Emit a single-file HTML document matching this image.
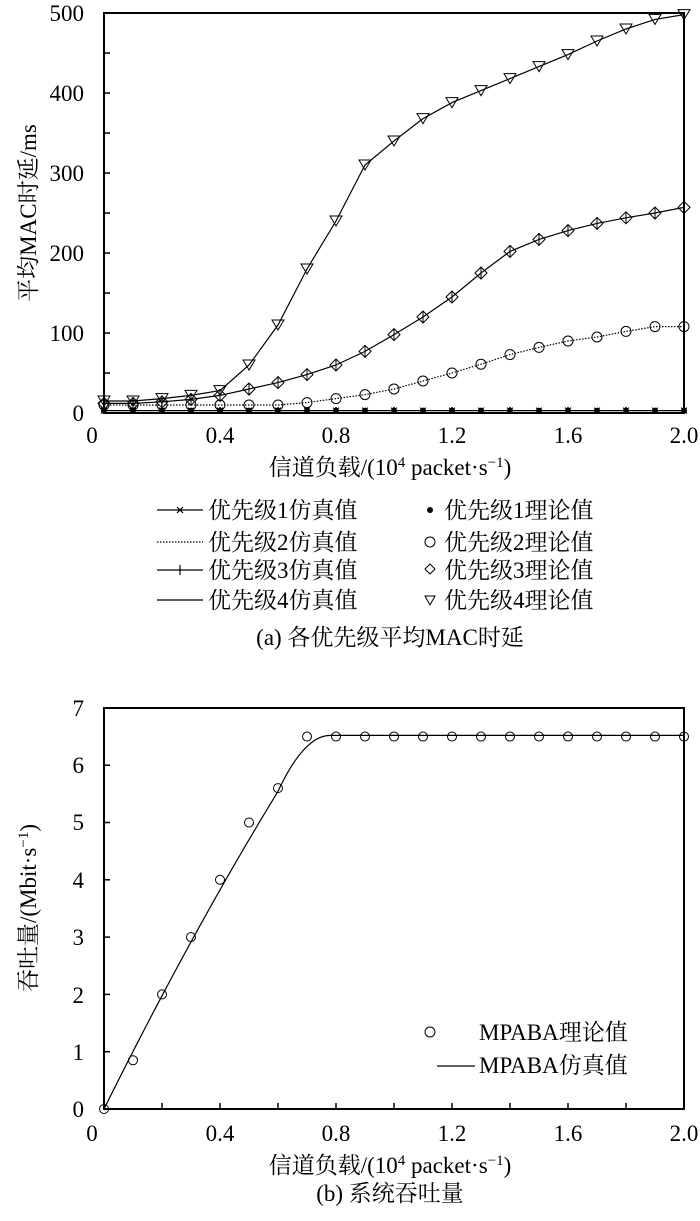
<!DOCTYPE html>
<html><head><meta charset="utf-8"><style>
body{margin:0;background:#fff}
svg{display:block}
text{font-family:"Liberation Serif","Noto Serif CJK SC",serif;fill:#000}
</style></head><body>
<svg id="s" width="700" height="1221" viewBox="0 0 700 1221" xmlns="http://www.w3.org/2000/svg">
<g font-size="23">
<rect x="104" y="13" width="580" height="400" fill="none" stroke="#000" stroke-width="2"/>
<g text-anchor="end">
<text x="84" y="421">0</text><text x="84" y="341">100</text><text x="84" y="261">200</text><text x="84" y="181">300</text><text x="84" y="101">400</text><text x="84" y="21">500</text>
</g>
<g text-anchor="middle">
<text x="92" y="443">0</text><text x="220" y="443">0.4</text><text x="336" y="443">0.8</text><text x="452" y="443">1.2</text><text x="568" y="443">1.6</text><text x="684" y="443">2.0</text>
<text x="390" y="475">信道负载/(10<tspan font-size="15" dy="-8">4</tspan><tspan dy="8"> packet·s</tspan><tspan font-size="15" dy="-8">−1</tspan><tspan dy="8">)</tspan></text>
<text x="390" y="645">(a) 各优先级平均MAC时延</text>
</g>
<text transform="translate(36,213) rotate(-90)" text-anchor="middle">平均MAC时延/ms</text>
<g stroke="#000" stroke-width="1.2">
<line x1="157" y1="510" x2="203" y2="510"/>
<line x1="157" y1="542" x2="203" y2="542" stroke-dasharray="1.5,1.5"/>
<line x1="157" y1="570" x2="203" y2="570"/><line x1="180" y1="565" x2="180" y2="575"/>
<line x1="157" y1="600" x2="203" y2="600"/>
<path d="M177,507 l6,6 M183,507 l-6,6"/>
</g>
<circle cx="430" cy="510" r="3" fill="#000"/>
<circle cx="430" cy="542" r="5" fill="none" stroke="#000"/>
<path d="M430,564 l5,5 l-5,5 l-5,-5z" fill="none" stroke="#000"/>
<path d="M425,596 h10 l-5,9z" fill="none" stroke="#000"/>
<text x="208" y="518">优先级1仿真值</text><text x="208" y="550">优先级2仿真值</text><text x="208" y="578">优先级3仿真值</text><text x="208" y="608">优先级4仿真值</text>
<text x="444" y="518">优先级1理论值</text><text x="444" y="550">优先级2理论值</text><text x="444" y="578">优先级3理论值</text><text x="444" y="608">优先级4理论值</text>

<rect x="104" y="708" width="580" height="401" fill="none" stroke="#000" stroke-width="2"/>
<g text-anchor="end">
<text x="84" y="1117">0</text><text x="84" y="1060">1</text><text x="84" y="1003">2</text><text x="84" y="945">3</text><text x="84" y="888">4</text><text x="84" y="830">5</text><text x="84" y="773">6</text><text x="84" y="716">7</text>
</g>
<g text-anchor="middle">
<text x="92" y="1141">0</text><text x="220" y="1141">0.4</text><text x="336" y="1141">0.8</text><text x="452" y="1141">1.2</text><text x="568" y="1141">1.6</text><text x="684" y="1141">2.0</text>
<text x="390" y="1173">信道负载/(10<tspan font-size="15" dy="-8">4</tspan><tspan dy="8"> packet·s</tspan><tspan font-size="15" dy="-8">−1</tspan><tspan dy="8">)</tspan></text>
<text x="390" y="1201">(b) 系统吞吐量</text>
</g>
<text transform="translate(36,908) rotate(-90)" text-anchor="middle">吞吐量/(Mbit·s<tspan font-size="15" dy="-8">−1</tspan><tspan dy="8">)</tspan></text>
<circle cx="430" cy="1032" r="5" fill="none" stroke="#000"/>
<line x1="437" y1="1066" x2="475" y2="1066" stroke="#000" stroke-width="1.2"/>
<text x="479" y="1040">MPABA理论值</text><text x="479" y="1073">MPABA仿真值</text>
<g id="dyn"></g>
</g>
</svg>
<script>
var NS="http://www.w3.org/2000/svg",g=document.getElementById('dyn');
function el(t,a){var e=document.createElementNS(NS,t);for(var k in a)e.setAttribute(k,a[k]);g.appendChild(e);return e;}
var xs=[];for(var i=0;i<=20;i++)xs.push(i/10);
function X(v){return 104+v*290;}function Y(v){return 413-v*0.8;}
var P4=[15,15,18,22,28,60,110,180,240,310,340,368,388,403,418,433,448,465,480,492,498];
var P3=[12,12,14,17,22,30,38,48,60,77,98,120,145,175,202,217,228,237,244,250,257];
var P2=[10,10,10,10,10,10,10,13,18,23,30,40,50,61,73,82,90,95,102,108,108];
var P1=xs.map(function(){return 3;});
function pl(arr,extra){var d=xs.map(function(x,i){return (i?'L':'M')+X(x).toFixed(1)+','+Y(arr[i]).toFixed(1);}).join('');var a={d:d,fill:'none',stroke:'#000','stroke-width':1.2};for(var k in extra)a[k]=extra[k];el('path',a);}
pl(P4);pl(P3);pl(P2,{'stroke-dasharray':'1.5,1.5'});pl(P1);
xs.forEach(function(x,i){var cx=X(x);
 el('circle',{cx:cx,cy:Y(P1[i]),r:3,fill:'#000'});
 el('path',{d:'M'+(cx-3)+','+(Y(P1[i])-3)+'l6,6m0,-6l-6,6',stroke:'#000'});
 el('circle',{cx:cx,cy:Y(P2[i]),r:5,fill:'none',stroke:'#000'});
 var y3=Y(P3[i]);el('path',{d:'M'+cx+','+(y3-6)+'l6,6l-6,6l-6,-6z',fill:'none',stroke:'#000'});
 el('path',{d:'M'+cx+','+(y3-6)+'v12',stroke:'#000'});
 var y4=Y(P4[i]);el('path',{d:'M'+(cx-6)+','+(y4-5)+'h12l-6,10z',fill:'none',stroke:'#000'});
});
function BX(v){return 104+v*290;}function BY(v){return 1109-v*57.3;}
var tv=[0,0.85,2,3,4,5,5.6,6.5,6.5,6.5,6.5,6.5,6.5,6.5,6.5,6.5,6.5,6.5,6.5,6.5,6.5];
var d='';for(var k=0;k<=200;k++){var x=k/100,y;if(x<0.6)y=x*10.2-x*x*1.6;else if(x<0.78){var t=(x-0.6)/0.18;var y0=0.6*10.2-0.36*1.6;y=y0+(6.52-y0)*(1-(1-t)*(1-t));}else y=6.52;d+=(k?'L':'M')+BX(x).toFixed(1)+','+BY(y).toFixed(1);}
el('path',{d:d,fill:'none',stroke:'#000','stroke-width':1.2});
tv.forEach(function(v,i){el('circle',{cx:BX(i/10),cy:BY(v),r:4.5,fill:'none',stroke:'#000'});});
for(var i=1;i<10;i++){el('line',{x1:104+i*58,y1:1109,x2:104+i*58,y2:1103,stroke:'#000','stroke-width':1.5});el('line',{x1:104+i*58,y1:413,x2:104+i*58,y2:407,stroke:'#000','stroke-width':1.5});}
for(var i=1;i<10;i++)el('line',{x1:104,y1:413-i*40,x2:110,y2:413-i*40,stroke:'#000','stroke-width':1.5});
for(var i=1;i<7;i++)el('line',{x1:104,y1:1109-i*57.3,x2:110,y2:1109-i*57.3,stroke:'#000','stroke-width':1.5});
</script>
</body></html>
